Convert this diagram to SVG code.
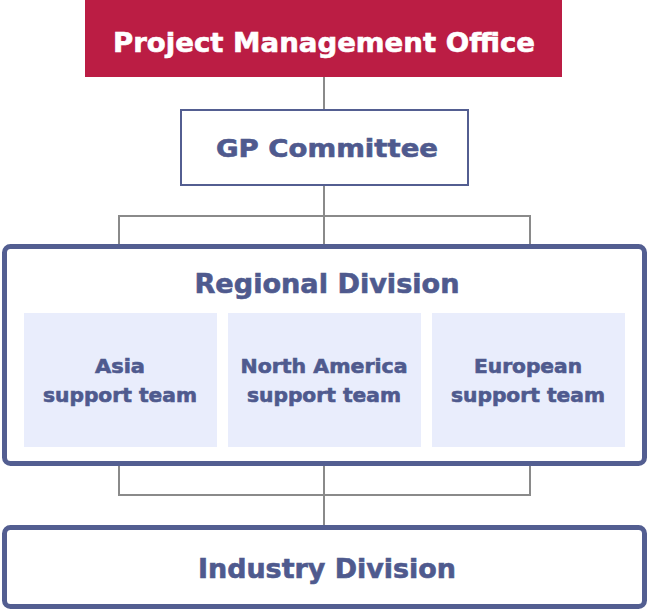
<svg xmlns="http://www.w3.org/2000/svg" width="649" height="612" viewBox="0 0 649 612">
<style>
.t{font-family:"DejaVu Sans","Liberation Sans",sans-serif;font-weight:bold;fill:#4f5a8e;stroke:#4f5a8e;stroke-width:0.6;text-anchor:middle}
.w{fill:#ffffff;stroke:#ffffff}
.c{fill:none;stroke:#8a8a8a;stroke-width:2}
.box{fill:#ffffff;stroke:#535e91}
.team{fill:#e9edfc}
</style>
<rect width="649" height="612" fill="#ffffff"/>
<g id="connectors">
<path class="c" d="M324 77V110"/>
<path class="c" d="M324 185V245M119 245V216H530V245"/>
<path class="c" d="M119 465V495H530V465M324 465V526"/>
</g>
<g id="pmo">
<rect x="85" y="0" width="477" height="77" fill="#bb1d44"/>
<text class="t w" x="324" y="52" font-size="26" textLength="422" lengthAdjust="spacingAndGlyphs">Project Management Office</text>
</g>
<g id="gp">
<rect class="box" x="181" y="110" width="287" height="75" stroke-width="2"/>
<text class="t" x="327" y="157" font-size="24" textLength="222" lengthAdjust="spacingAndGlyphs">GP Committee</text>
</g>
<g id="regional">
<rect class="box" x="4.5" y="246.5" width="640" height="217" rx="6" stroke-width="5"/>
<text class="t" x="327" y="293" font-size="27" textLength="265" lengthAdjust="spacingAndGlyphs">Regional Division</text>
</g>
<g id="asia">
<rect class="team" x="24" y="313" width="193" height="134"/>
<text class="t" x="120" y="373" font-size="19" textLength="50" lengthAdjust="spacingAndGlyphs">Asia</text>
<text class="t" x="120" y="402" font-size="19" textLength="154" lengthAdjust="spacingAndGlyphs">support team</text>
</g>
<g id="namerica">
<rect class="team" x="228" y="313" width="193" height="134"/>
<text class="t" x="324" y="373" font-size="19" textLength="167" lengthAdjust="spacingAndGlyphs">North America</text>
<text class="t" x="324" y="402" font-size="19" textLength="154" lengthAdjust="spacingAndGlyphs">support team</text>
</g>
<g id="europe">
<rect class="team" x="432" y="313" width="193" height="134"/>
<text class="t" x="528" y="373" font-size="19" textLength="108" lengthAdjust="spacingAndGlyphs">European</text>
<text class="t" x="528" y="402" font-size="19" textLength="154" lengthAdjust="spacingAndGlyphs">support team</text>
</g>
<g id="industry">
<rect class="box" x="4.5" y="527.5" width="640" height="79" rx="6" stroke-width="5"/>
<text class="t" x="327" y="578" font-size="26" textLength="258" lengthAdjust="spacingAndGlyphs">Industry Division</text>
</g>
</svg>
